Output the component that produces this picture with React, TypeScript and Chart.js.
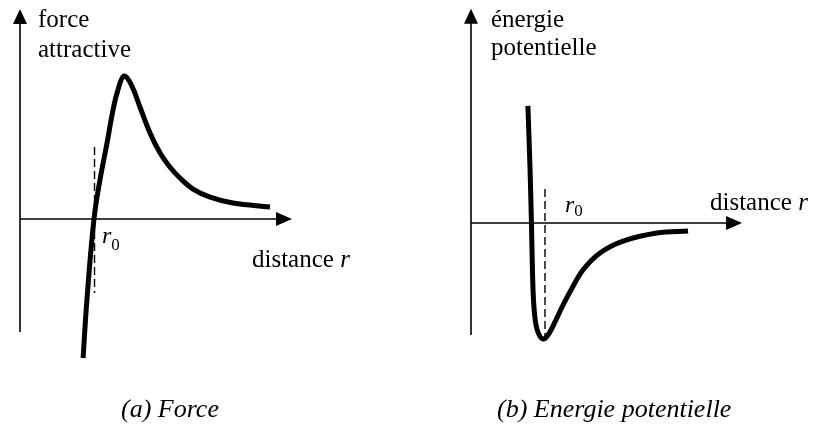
import React, { useEffect, useRef } from "react";
import { Chart, registerables } from "chart.js";

Chart.register(...registerables);

const FONT = "'Liberation Serif', 'Times New Roman', Times, serif";

// ---------- Panel (a): attractive force vs distance ----------
const forceDistance = [2.32, 2.46, 2.72, 2.94, 3.2, 3.42, 3.6, 3.82, 4.08, 4.41, 4.78, 5.15, 5.51, 5.88, 6.36, 6.99, 7.83, 9.19];
const forceValues = [-9.93, -5.79, 0, 2.79, 5.43, 7.79, 9.21, 10.21, 9.64, 8.0, 6.14, 4.71, 3.71, 2.93, 2.14, 1.57, 1.14, 0.86];
const forceR0 = 2.74;
const forceR0Dash = [5.14, -5.29];
const forceYAxisExtent = [-8.07, 15];
const forceYLabel = ["force", "attractive"];
const forceCaption = "(a) Force";

// ---------- Panel (b): potential energy vs distance ----------
const energyDistance = [2.1, 2.18, 2.23, 2.29, 2.36, 2.47, 2.66, 2.84, 3.1, 3.36, 3.65, 4.13, 4.76, 5.61, 6.86, 8.01];
const energyValues = [8.36, 3.79, 0, -4.79, -6.79, -7.79, -8.29, -8.0, -7.07, -6.0, -4.93, -3.36, -2.14, -1.29, -0.71, -0.57];
const energyR0 = 2.73;
const energyR0Dash = [2.43, -8.14];
const energyYAxisExtent = [-8, 15.3];
const energyYLabel = ["énergie", "potentielle"];
const energyCaption = "(b) Energie potentielle";

// shared
const xAxisExtent = [0, 10];
const xLabelText = "distance ";
const xLabelVar = "r";
const r0Text = "r";
const r0Sub = "0";
const xRange = [0, 10];
const yRange = [-10, 15];

type PanelCfg = {
  xs: number[];
  ys: number[];
  r0: number;
  r0Dash: number[];
  yAxisExtent: number[];
  yLabel: string[];
  caption: string;
  tension: number;
  width: number;
  padding: { left: number; right: number; top: number; bottom: number };
  yLabelDx: number;
  yLabelDy: number[];
  xLabelDx: number;
  xLabelDy: number;
  r0Dx: number;
  r0Dy: number;
  r0SubDy: number;
  captionX: number;
  captionY: number;
};

function makePlugin(cfg: PanelCfg) {
  return {
    id: "panelDecor",
    beforeDatasetsDraw(chart: any) {
      const { ctx } = chart;
      const xs = chart.scales.x;
      const ys = chart.scales.y;
      const x0 = xs.getPixelForValue(0);
      const y0 = ys.getPixelForValue(0);
      const yb = ys.getPixelForValue(cfg.yAxisExtent[0]);
      const yt = ys.getPixelForValue(cfg.yAxisExtent[1]);
      const xe = xs.getPixelForValue(xAxisExtent[1]);
      const xs0 = xs.getPixelForValue(xAxisExtent[0]);
      ctx.save();
      ctx.strokeStyle = "#000";
      ctx.fillStyle = "#000";
      ctx.lineWidth = 1.6;
      ctx.beginPath();
      ctx.moveTo(x0, yb);
      ctx.lineTo(x0, yt + 10);
      ctx.stroke();
      ctx.beginPath();
      ctx.moveTo(xs0, y0);
      ctx.lineTo(xe - 10, y0);
      ctx.stroke();
      ctx.beginPath();
      ctx.moveTo(x0, yt);
      ctx.lineTo(x0 - 7, yt + 15);
      ctx.lineTo(x0 + 7, yt + 15);
      ctx.closePath();
      ctx.fill();
      ctx.beginPath();
      ctx.moveTo(xe, y0);
      ctx.lineTo(xe - 16, y0 - 7);
      ctx.lineTo(xe - 16, y0 + 7);
      ctx.closePath();
      ctx.fill();
      ctx.restore();
    },
    afterDatasetsDraw(chart: any) {
      const { ctx } = chart;
      const xs = chart.scales.x;
      const ys = chart.scales.y;
      const x0 = xs.getPixelForValue(0);
      const y0 = ys.getPixelForValue(0);
      const yt = ys.getPixelForValue(cfg.yAxisExtent[1]);
      const xe = xs.getPixelForValue(xAxisExtent[1]);
      const xr0 = xs.getPixelForValue(cfg.r0);
      ctx.save();
      ctx.fillStyle = "#000";
      ctx.textBaseline = "alphabetic";
      ctx.textAlign = "left";
      ctx.font = `25px ${FONT}`;
      cfg.yLabel.forEach((t, i) => {
        ctx.fillText(t, x0 + cfg.yLabelDx, yt + cfg.yLabelDy[i]);
      });
      const lx = xe + cfg.xLabelDx;
      const ly = y0 + cfg.xLabelDy;
      ctx.font = `25px ${FONT}`;
      ctx.fillText(xLabelText, lx, ly);
      const w = ctx.measureText(xLabelText).width;
      ctx.font = `italic 25px ${FONT}`;
      ctx.fillText(xLabelVar, lx + w, ly);
      const rx = xr0 + cfg.r0Dx;
      const ry = y0 + cfg.r0Dy;
      ctx.font = `italic 24px ${FONT}`;
      ctx.fillText(r0Text, rx, ry);
      const rw = ctx.measureText(r0Text).width;
      ctx.font = `17px ${FONT}`;
      ctx.fillText(r0Sub, rx + rw, ry + cfg.r0SubDy);
      ctx.font = `italic 26px ${FONT}`;
      ctx.fillText(cfg.caption, cfg.captionX, cfg.captionY);
      ctx.restore();
    },
  };
}

function Panel({ cfg, left }: { cfg: PanelCfg; left: number }) {
  const ref = useRef<HTMLCanvasElement | null>(null);
  useEffect(() => {
    if (!ref.current) return;
    const chart = new Chart(ref.current, {
      type: "line",
      data: {
        datasets: [
          {
            data: cfg.xs.map((x, i) => ({ x, y: cfg.ys[i] })),
            borderColor: "#000",
            borderWidth: 5,
            pointRadius: 0,
            tension: cfg.tension,
            fill: false,
            clip: false,
            borderJoinStyle: "round",
          } as any,
          {
            data: cfg.r0Dash.map((y) => ({ x: cfg.r0, y })),
            borderColor: "#000",
            borderWidth: 1.4,
            borderDash: [8, 4],
            pointRadius: 0,
            fill: false,
            clip: false,
          } as any,
        ],
      },
      options: {
        animation: false,
        responsive: false,
        maintainAspectRatio: false,
        events: [],
        layout: { padding: cfg.padding },
        plugins: {
          legend: { display: false },
          tooltip: { enabled: false },
          title: { display: false },
        },
        scales: {
          x: { type: "linear", min: xRange[0], max: xRange[1], display: false },
          y: { type: "linear", min: yRange[0], max: yRange[1], display: false },
        },
      },
      plugins: [makePlugin(cfg)],
    });
    return () => chart.destroy();
  }, [cfg]);
  return (
    <canvas
      ref={ref}
      width={cfg.width}
      height={425}
      style={{ position: "absolute", left, top: 0, width: cfg.width, height: 425 }}
    />
  );
}

const forceCfg: PanelCfg = {
  xs: forceDistance,
  ys: forceValues,
  r0: forceR0,
  r0Dash: forceR0Dash,
  yAxisExtent: forceYAxisExtent,
  yLabel: forceYLabel,
  caption: forceCaption,
  tension: 0.4,
  width: 410,
  padding: { left: 20, right: 118, top: 9, bottom: 66 },
  yLabelDx: 18,
  yLabelDy: [18, 48],
  xLabelDx: -40,
  xLabelDy: 48,
  r0Dx: 7.5,
  r0Dy: 24,
  r0SubDy: 7,
  captionX: 121,
  captionY: 417,
};

const energyCfg: PanelCfg = {
  xs: energyDistance,
  ys: energyValues,
  r0: energyR0,
  r0Dash: energyR0Dash,
  yAxisExtent: energyYAxisExtent,
  yLabel: energyYLabel,
  caption: energyCaption,
  tension: 0.35,
  width: 407,
  padding: { left: 61, right: 75, top: 13, bottom: 62 },
  yLabelDx: 20,
  yLabelDy: [18, 46],
  xLabelDx: -32,
  xLabelDy: -13,
  r0Dx: 20,
  r0Dy: -11,
  r0SubDy: 4,
  captionX: 87,
  captionY: 417,
};

export default function App() {
  return (
    <div style={{ position: "absolute", left: 0, top: 0, width: 817, height: 425, background: "#fff" }}>
      <Panel cfg={forceCfg} left={0} />
      <Panel cfg={energyCfg} left={410} />
    </div>
  );
}
